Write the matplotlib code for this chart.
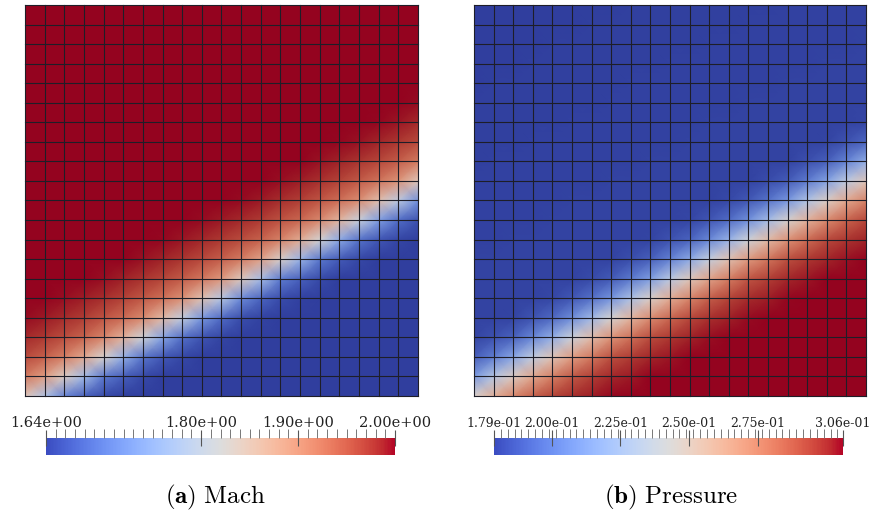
import numpy as np
import matplotlib
matplotlib.use("Agg")
import matplotlib.pyplot as plt
from matplotlib.colors import ListedColormap, Normalize
from matplotlib.cm import ScalarMappable
from matplotlib.ticker import FixedLocator

plt.rcParams['mathtext.fontset'] = 'cm'

# mesh: 20 x 20 cells
n_cells = 20

# shock line through the mesh (node units): j = offset + slope * i
mach_shock = (-0.25, 0.55)
pres_shock = (0.10, 0.56)

# values across the shock, vs vertical distance from the shock line (cells)
mach_d = [-20, -2.6, -1.8, -0.9, 0.0, 0.8, 1.6, 2.6, 3.6, 4.6, 20]
mach_v = [1.64, 1.64, 1.655, 1.70, 1.82, 1.90, 1.94, 1.97, 1.99, 2.00, 2.00]
pres_d = [-20, -4.2, -3.0, -2.0, -1.0, 0.0, 0.9, 1.8, 2.8, 20]
pres_v = [0.306, 0.306, 0.300, 0.290, 0.270, 0.2425, 0.210, 0.190, 0.181, 0.179]

# colour bar ranges and ticks
mach_range = (1.64, 2.00)
mach_major = [1.64, 1.80, 1.90, 2.00]
mach_minor_step = 0.01
pres_range = (0.179, 0.306)
pres_major = [0.179, 0.200, 0.225, 0.250, 0.275, 0.306]
pres_minor_step = 0.0025

captions = [r"$\mathbf{(a)}\ \mathrm{Mach}$", r"$\mathbf{(b)}\ \mathrm{Pressure}$"]

# lit surface looks darker than the colour bar
base = plt.get_cmap('coolwarm')(np.linspace(0, 1, 256))[:, :3]
t = np.linspace(0, 1, 256)
shade = 0.82 + 0.14 * (1 - np.abs(2 * t - 1))
field_cmap = ListedColormap(base * shade[:, None])

fig = plt.figure(figsize=(8.7, 5.19), dpi=100)

nodes = np.arange(n_cells + 1)
X, Y = np.meshgrid(nodes, nodes)


def field(shock, d_pts, v_pts):
    dist = Y - (shock[0] + shock[1] * X)
    return np.interp(dist, d_pts, v_pts)


panels = [
    ([0.0287, 0.237, 0.4517, 0.7534], field(mach_shock, mach_d, mach_v), mach_range,
     [0.0529, 0.1233, 0.4011, 0.0328], mach_major, mach_minor_step, 10.5, 0.248),
    ([0.5448, 0.237, 0.4506, 0.7534], field(pres_shock, pres_d, pres_v), pres_range,
     [0.5678, 0.1233, 0.4011, 0.0328], pres_major, pres_minor_step, 9.0, 0.771),
]

for k, (pos, V, vr, cpos, major, mstep, fs, capx) in enumerate(panels):
    ax = fig.add_axes(pos)
    ax.pcolormesh(X, Y, V, shading='gouraud', cmap=field_cmap, vmin=vr[0], vmax=vr[1])
    for n in nodes:
        ax.axhline(n, color='#1e1e28', lw=0.8, clip_on=False)
        ax.axvline(n, color='#1e1e28', lw=0.8, clip_on=False)
    ax.set_xlim(0, n_cells)
    ax.set_ylim(0, n_cells)
    ax.axis('off')

    cax = fig.add_axes(cpos)
    sm = ScalarMappable(norm=Normalize(vr[0], vr[1]), cmap='coolwarm')
    cb = fig.colorbar(sm, cax=cax, orientation='horizontal')
    cb.outline.set_visible(False)
    cb.set_ticks(major, labels=['%.2e' % v for v in major])
    n_minor = int(round((vr[1] - vr[0]) / mstep))
    cb.minorlocator = FixedLocator([vr[0] + m * mstep for m in range(n_minor + 1)])
    cax.xaxis.set_ticks_position('top')
    cax.xaxis.set_label_position('top')
    cax.tick_params(axis='x', which='major', direction='inout', length=12,
                    width=0.8, color='#555555', pad=0, labelsize=fs)
    cax.tick_params(axis='x', which='minor', direction='out', length=6.5,
                    width=0.7, color='#777777')
    for lab in cax.get_xticklabels():
        lab.set_fontfamily('DejaVu Serif')
        lab.set_color('#222222')

    fig.text(capx, 0.042, captions[k], ha='center', va='center', fontsize=18)

fig.savefig('out.png', dpi=100)
